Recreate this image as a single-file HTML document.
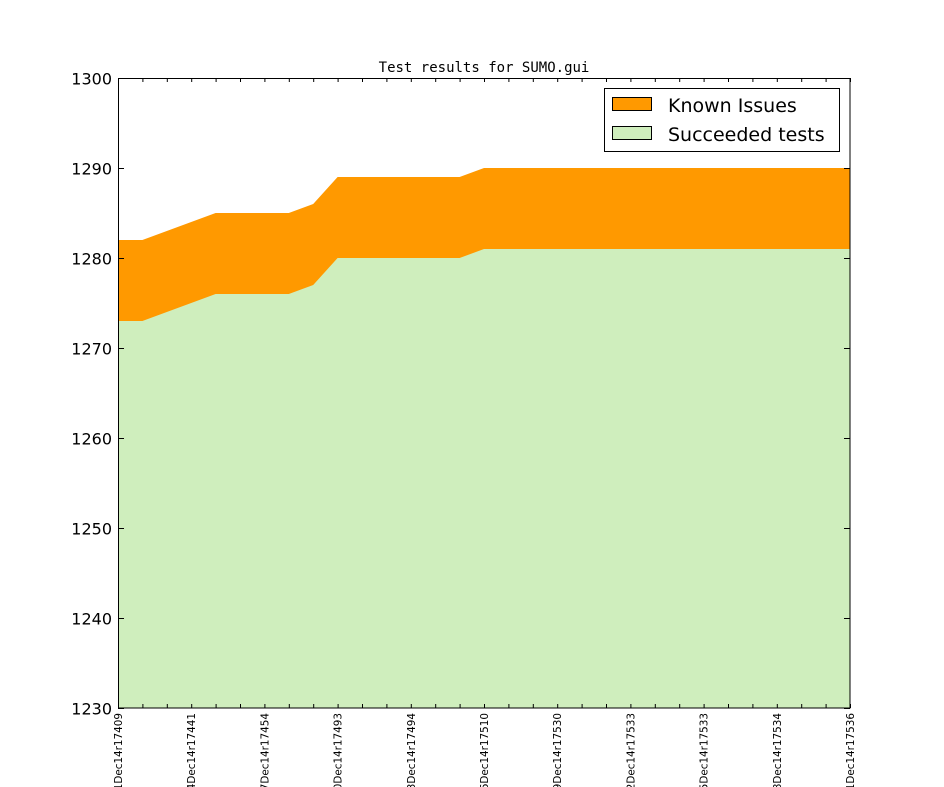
<!DOCTYPE html>
<html><head><meta charset="utf-8"><style>body{margin:0;background:#fff}svg{display:block}</style></head>
<body>
<svg id="s" width="944" height="787" xmlns="http://www.w3.org/2000/svg" font-family="'DejaVu Sans','Liberation Sans',sans-serif">
<rect width="944" height="787" fill="#fff"/>
<polygon points="118,240 142.4,240 215.6,213 288.8,213 313.2,204 337.6,177 459.6,177 484,168 850,168 850,708 118,708" fill="#ff9900"/>
<polygon points="118,321 142.4,321 215.6,294 288.8,294 313.2,285 337.6,258 459.6,258 484,249 850,249 850,708 118,708" fill="#cfeebd"/>
<g id="ticks" stroke="#000" stroke-width="1"></g>
<rect x="118.5" y="78.5" width="731.5" height="629.5" fill="none" stroke="#000" stroke-width="1"/>
<text x="484" y="72" font-family="'DejaVu Sans Mono','Liberation Mono',monospace" font-size="14" text-anchor="middle">Test results for SUMO.gui</text>
<g id="yl" font-size="16" text-anchor="end"></g>
<g id="xl" font-size="10.4" text-anchor="end"></g>
<rect x="604.5" y="88.5" width="235" height="63" fill="#fff" stroke="#000" stroke-width="1"/>
<rect x="612.5" y="97.5" width="39" height="13" fill="#ff9900" stroke="#000"/>
<rect x="612.5" y="126.5" width="39" height="13" fill="#cfeebd" stroke="#000"/>
<text x="668" y="112" font-size="19">Known Issues</text>
<text x="668" y="141" font-size="19">Succeeded tests</text>
<script>
var t=document.getElementById('ticks'),yl=document.getElementById('yl'),xl=document.getElementById('xl'),d='';
for(var i=0;i<=30;i++){var x=118.5+i*24.4;d+='M'+x+' 708V704M'+x+' 78V82';}
for(var k=0;k<=7;k++){var y=708.5-k*90;d+='M118 '+y+'H124M850 '+y+'H844';
var tx=document.createElementNS('http://www.w3.org/2000/svg','text');tx.setAttribute('x',112);tx.setAttribute('y',y+6);tx.textContent=1230+k*10;yl.appendChild(tx);}
var p=document.createElementNS('http://www.w3.org/2000/svg','path');p.setAttribute('d',d);t.appendChild(p);
var L=["01Dec14r17409","04Dec14r17441","07Dec14r17454","10Dec14r17493","13Dec14r17494","16Dec14r17510","19Dec14r17530","22Dec14r17533","25Dec14r17533","28Dec14r17534","31Dec14r17536"];
for(var j=0;j<11;j++){var x=118+j*73.2+4;var tx=document.createElementNS('http://www.w3.org/2000/svg','text');
tx.setAttribute('transform','translate('+x+',713) rotate(-90)');tx.textContent=L[j];xl.appendChild(tx);}
</script>
</svg>
</body></html>
